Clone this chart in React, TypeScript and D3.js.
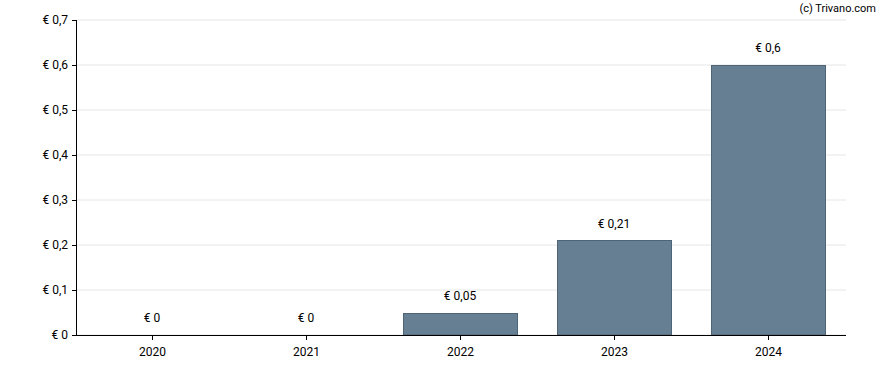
import React from "react";
import * as d3 from "d3";

const years = ["2020", "2021", "2022", "2023", "2024"];
const dividends = [0, 0, 0.05, 0.21, 0.6];
const yTicks = [0, 0.1, 0.2, 0.3, 0.4, 0.5, 0.6, 0.7];

const fmt = (v: number) => "€ " + String(Math.round(v * 100) / 100).replace(".", ",");

const App = () => {
  const width = 888;
  const height = 370;
  const left = 76;
  const right = 846;
  const top = 20;
  const bottom = 335;

  const x = d3.scaleBand<string>().domain(years).range([left, right]).paddingInner(0.26).paddingOuter(0.13);
  const y = d3.scaleLinear().domain([0, 0.7]).range([bottom, top]);

  const font = "Roboto, Arial, sans-serif";

  return (
    <svg width={width} height={height} style={{ position: "absolute", left: 0, top: 0 }} fontFamily={font}>
      <rect width={width} height={height} fill="#fff" />
      {/* grid */}
      {yTicks.map((t) => (
        <line key={"g" + t} x1={left} x2={right} y1={y(t)} y2={y(t)} stroke="#e6e6e6" strokeWidth={1} />
      ))}
      {/* bars */}
      {years.map((yr, i) => {
        if (dividends[i] <= 0) return null;
        const yTop = Math.round(y(dividends[i])) + 0.5;
        return (
          <rect
            key={"b" + yr}
            x={Math.round(x(yr)!) - 0.5}
            y={yTop}
            width={Math.round(x.bandwidth())}
            height={bottom - yTop}
            fill="#667f93"
            stroke="#4d6577"
            strokeWidth={1}
          />
        );
      })}
      {/* value labels */}
      {years.map((yr, i) => (
        <text key={"v" + yr} x={x(yr)! + x.bandwidth() / 2 - 1} y={y(dividends[i]) - 13} textAnchor="middle" fontSize={12} fill="#000">
          {fmt(dividends[i])}
        </text>
      ))}
      {/* y axis */}
      <line x1={left + 0.5} x2={left + 0.5} y1={top} y2={bottom + 0.5} stroke="#000" />
      {yTicks.map((t) => (
        <g key={"y" + t}>
          <line x1={left - 4} x2={left} y1={Math.round(y(t)) + 0.5} y2={Math.round(y(t)) + 0.5} stroke="#000" />
          <text x={left - 8} y={y(t) + 4} textAnchor="end" fontSize={12} fill="#000">
            {fmt(t)}
          </text>
        </g>
      ))}
      {/* x axis */}
      <line x1={left} x2={right} y1={bottom + 0.5} y2={bottom + 0.5} stroke="#000" />
      {years.map((yr) => {
        const cx = Math.round(x(yr)! + x.bandwidth() / 2) - 0.5;
        return (
          <g key={"x" + yr}>
            <line x1={cx} x2={cx} y1={bottom} y2={bottom + 5} stroke="#000" />
            <text x={cx} y={bottom + 21} textAnchor="middle" fontSize={12} fill="#000">
              {yr}
            </text>
          </g>
        );
      })}
      <text x={876} y={12} textAnchor="end" fontSize={11} fill="#000">
        (c) Trivano.com
      </text>
    </svg>
  );
};

export default App;
